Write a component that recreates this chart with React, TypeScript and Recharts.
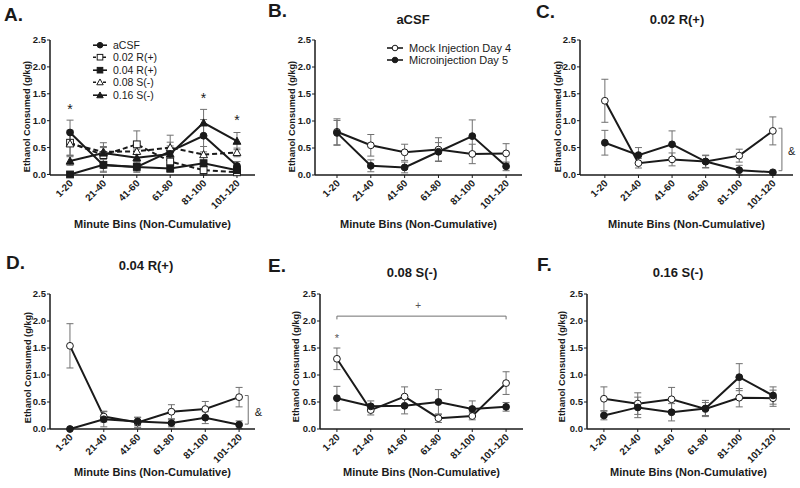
import React from 'react';
import { LineChart, Line, XAxis, YAxis, ErrorBar, ReferenceLine, ReferenceDot, Legend, Label } from 'recharts';

// minute bins on the x axis
const bins = ['1-20', '21-40', '41-60', '61-80', '81-100', '101-120'];
const binIndex = [1, 2, 3, 4, 5, 6];
const yTicks = [0, 0.5, 1, 1.5, 2, 2.5];

// aCSF
const acsfMock = [0.8, 0.55, 0.42, 0.47, 0.39, 0.4];
const acsfMockErr = [0.24, 0.2, 0.15, 0.22, 0.18, 0.18];
const acsfMicro = [0.78, 0.17, 0.14, 0.43, 0.72, 0.16];
const acsfMicroErr = [0.23, 0.11, 0.1, 0.17, 0.3, 0.08];

// 0.02 R(+)
const r02Mock = [1.37, 0.21, 0.28, 0.24, 0.35, 0.81];
const r02MockErr = [0.4, 0.09, 0.12, 0.11, 0.12, 0.26];
const r02Micro = [0.59, 0.36, 0.56, 0.24, 0.08, 0.04];
const r02MicroErr = [0.23, 0.14, 0.25, 0.12, 0.09, 0.02];

// 0.04 R(+)
const r04Mock = [1.54, 0.23, 0.12, 0.32, 0.37, 0.59];
const r04MockErr = [0.41, 0.1, 0.09, 0.13, 0.14, 0.18];
const r04Micro = [0.0, 0.18, 0.14, 0.11, 0.21, 0.08];
const r04MicroErr = [0, 0.14, 0.08, 0.07, 0.11, 0.07];

// 0.08 S(-)
const s08Mock = [1.3, 0.35, 0.6, 0.2, 0.24, 0.85];
const s08MockErr = [0.2, 0.09, 0.18, 0.08, 0.07, 0.21];
const s08Micro = [0.57, 0.42, 0.43, 0.5, 0.37, 0.41];
const s08MicroErr = [0.22, 0.1, 0.15, 0.23, 0.15, 0.08];

// 0.16 S(-)
const s16Mock = [0.56, 0.47, 0.55, 0.37, 0.58, 0.57];
const s16MockErr = [0.22, 0.2, 0.22, 0.12, 0.17, 0.15];
const s16Micro = [0.25, 0.4, 0.31, 0.38, 0.96, 0.62];
const s16MicroErr = [0.08, 0.19, 0.16, 0.15, 0.25, 0.16];

const FONT = '"Liberation Sans", Arial, Helvetica, sans-serif';
const INK = '#1a1a1a';
const GREY = '#707070';

type Shape = 'circle' | 'square' | 'triangle';

interface Series {
  name: string;
  values: number[];
  errors: number[];
  shape: Shape;
  filled: boolean;
  dashed?: boolean;
}

const Marker = ({ cx, cy, shape, filled, size = 3.4 }: any) => {
  const fill = filled ? INK : '#fff';
  if (shape === 'square') {
    return <rect x={cx - size} y={cy - size} width={size * 2} height={size * 2} fill={fill} stroke={INK} strokeWidth={1} />;
  }
  if (shape === 'triangle') {
    const s = size * 1.15;
    return (
      <polygon
        points={`${cx},${cy - s} ${cx + s},${cy + s * 0.8} ${cx - s},${cy + s * 0.8}`}
        fill={fill}
        stroke={INK}
        strokeWidth={1}
      />
    );
  }
  return <circle cx={cx} cy={cy} r={size} fill={fill} stroke={INK} strokeWidth={1} />;
};

const makeDot = (shape: Shape, filled: boolean) => (props: any) => {
  if (props.cx == null || props.cy == null) return <g key={`n${props.index}`} />;
  return (
    <g key={`d${props.index}`}>
      <Marker cx={props.cx} cy={props.cy} shape={shape} filled={filled} />
    </g>
  );
};

const BinTick = ({ x, y, payload }: any) => {
  const ax = x + 3.5;
  const ay = y + 4;
  return (
    <text
      x={ax}
      y={ay}
      transform={`rotate(-45, ${ax}, ${ay})`}
      textAnchor="end"
      fontSize={9.8}
      fontWeight="bold"
      fontFamily={FONT}
      fill={INK}
    >
      {bins[payload.value - 1]}
    </text>
  );
};

const LegendBox = ({ items, fontSize, rowH, lineW }: any) => (
  <div style={{ fontFamily: FONT, fontSize, color: INK, lineHeight: `${rowH}px` }}>
    {items.map((s: Series) => (
      <div key={s.name} style={{ display: 'flex', alignItems: 'center', height: rowH, whiteSpace: 'nowrap' }}>
        <svg width={lineW} height={rowH} style={{ marginRight: 6 }}>
          <line
            x1={0}
            x2={lineW}
            y1={rowH / 2}
            y2={rowH / 2}
            stroke={INK}
            strokeWidth={1.6}
            strokeDasharray={s.dashed ? '3 2' : undefined}
          />
          <Marker cx={lineW / 2} cy={rowH / 2} shape={s.shape} filled={s.filled} size={2.8} />
        </svg>
        <span>{s.name}</span>
      </div>
    ))}
  </div>
);

const note = (key: string, x: number, y: number, text: string, size: number, color = INK, weight = 'normal') => (
  <ReferenceDot
    key={key}
    x={x}
    y={y}
    r={0}
    fill="none"
    stroke="none"
    ifOverflow="visible"
    label={{ value: text, position: 'center', fill: color, fontSize: size, fontFamily: FONT, fontWeight: weight }}
  />
);

const seg = (key: string, x1: number, y1: number, x2: number, y2: number) => (
  <ReferenceLine
    key={key}
    segment={[{ x: x1, y: y1 }, { x: x2, y: y2 }]}
    stroke={GREY}
    strokeWidth={1}
    ifOverflow="visible"
  />
);

const mockMicro = (mock: number[], mockErr: number[], micro: number[], microErr: number[]): Series[] => [
  { name: 'Mock Injection Day 4', values: mock, errors: mockErr, shape: 'circle', filled: false },
  { name: 'Microinjection Day 5', values: micro, errors: microErr, shape: 'circle', filled: true },
];

const doseSeries: Series[] = [
  { name: 'aCSF', values: acsfMicro, errors: acsfMicroErr, shape: 'circle', filled: true },
  { name: '0.02 R(+)', values: r02Micro, errors: r02MicroErr, shape: 'square', filled: false, dashed: true },
  { name: '0.04 R(+)', values: r04Micro, errors: r04MicroErr, shape: 'square', filled: true },
  { name: '0.08 S(-)', values: s08Micro, errors: s08MicroErr, shape: 'triangle', filled: false, dashed: true },
  { name: '0.16 S(-)', values: s16Micro, errors: s16MicroErr, shape: 'triangle', filled: true },
];

const panels = [
  {
    id: 'A',
    box: { left: 0, top: 0, w: 265, h: 240 },
    plot: { left: 50, top: 40, right: 255, bottom: 175 },
    domain: [0.4, 6.54],
    yLabelX: 27,
    yLabelShift: 9,
    xTitleY: 228,
    series: doseSeries,
    legend: { left: 93, top: 39, fontSize: 10.5, rowH: 12.4, lineW: 14 },
    extras: [note('a1', 1, 1.22, '*', 14), note('a5', 5, 1.43, '*', 14), note('a6', 6, 1.02, '*', 14)],
  },
  {
    id: 'B',
    box: { left: 265, top: 0, w: 265, h: 240 },
    plot: { left: 315, top: 40, right: 522, bottom: 175 },
    domain: [0.35, 6.47],
    yLabelX: 292,
    yLabelShift: 9,
    xTitleY: 228,
    series: mockMicro(acsfMock, acsfMockErr, acsfMicro, acsfMicroErr),
    legend: { left: 122, top: 42, fontSize: 11, rowH: 12, lineW: 16 },
    extras: [],
  },
  {
    id: 'C',
    box: { left: 530, top: 0, w: 270, h: 240 },
    plot: { left: 580, top: 40, right: 793, bottom: 175 },
    domain: [0.26, 6.6],
    yLabelX: 558,
    yLabelShift: 9,
    xTitleY: 228,
    series: mockMicro(r02Mock, r02MockErr, r02Micro, r02MicroErr),
    extras: [
      seg('c1', 6.27, 0.86, 6.27, 0.07),
      seg('c2', 6.17, 0.86, 6.27, 0.86),
      seg('c3', 6.17, 0.07, 6.27, 0.07),
      note('c4', 6.56, 0.43, '&', 11),
    ],
  },
  {
    id: 'D',
    box: { left: 0, top: 240, w: 265, h: 248 },
    plot: { left: 50, top: 294, right: 255, bottom: 429 },
    domain: [0.41, 6.47],
    yLabelX: 28,
    yLabelShift: 6,
    xTitleY: 476,
    series: mockMicro(r04Mock, r04MockErr, r04Micro, r04MicroErr),
    extras: [
      seg('d1', 6.27, 0.62, 6.27, 0.09),
      seg('d2', 6.17, 0.62, 6.27, 0.62),
      seg('d3', 6.17, 0.09, 6.27, 0.09),
      note('d4', 6.57, 0.32, '&', 11),
    ],
  },
  {
    id: 'E',
    box: { left: 265, top: 240, w: 265, h: 248 },
    plot: { left: 320, top: 294, right: 523, bottom: 429 },
    domain: [0.5, 6.5],
    yLabelX: 296,
    yLabelShift: 5,
    xTitleY: 476,
    series: mockMicro(s08Mock, s08MockErr, s08Micro, s08MicroErr),
    extras: [
      seg('e1', 1, 2.09, 6, 2.09),
      seg('e2', 1, 2.09, 1, 2.03),
      seg('e3', 6, 2.09, 6, 2.03),
      note('e4', 3.4, 2.28, '+', 10, '#555'),
      note('e5', 1, 1.68, '*', 11, '#555'),
    ],
  },
  {
    id: 'F',
    box: { left: 530, top: 240, w: 270, h: 248 },
    plot: { left: 587, top: 294, right: 790, bottom: 429 },
    domain: [0.5, 6.5],
    yLabelX: 562,
    yLabelShift: 5,
    xTitleY: 476,
    series: mockMicro(s16Mock, s16MockErr, s16Micro, s16MicroErr),
    extras: [],
  },
];

// panel letters and titles (baseline positions)
const headings = [
  { text: 'A.', x: 4, y: 21, size: 19, center: false },
  { text: 'B.', x: 268, y: 17, size: 19, center: false },
  { text: 'C.', x: 536, y: 18, size: 19, center: false },
  { text: 'D.', x: 6, y: 269, size: 19, center: false },
  { text: 'E.', x: 268, y: 272, size: 19, center: false },
  { text: 'F.', x: 537, y: 271, size: 19, center: false },
  { text: 'aCSF', x: 413, y: 24, size: 13, center: true },
  { text: '0.02 R(+)', x: 677, y: 24, size: 13, center: true },
  { text: '0.04  R(+)', x: 146, y: 270, size: 13, center: true },
  { text: '0.08 S(-)', x: 412, y: 277, size: 13, center: true },
  { text: '0.16 S(-)', x: 678, y: 277, size: 13, center: true },
];

const Panel = ({ cfg }: any) => {
  const { box, plot } = cfg;
  const xAxisH = 55;
  const margin = {
    top: plot.top - box.top,
    right: box.left + box.w - plot.right,
    bottom: box.top + box.h - plot.bottom - xAxisH,
    left: 0,
  };
  const table = binIndex.map((x, i) => {
    const row: Record<string, number> = { x };
    cfg.series.forEach((s: Series, k: number) => {
      row[`v${k}`] = s.values[i];
      row[`e${k}`] = s.errors[i];
    });
    return row;
  });

  const yLabel = () => (
    <text
      transform={`translate(${cfg.yLabelX - box.left},${(plot.top + plot.bottom) / 2 + cfg.yLabelShift - box.top}) rotate(-90)`}
      textAnchor="middle"
      dominantBaseline="central"
      fontSize={9.2}
      fontWeight="bold"
      fontFamily={FONT}
      fill={INK}
    >
      Ethanol  Consumed (g/kg)
    </text>
  );

  const xLabel = () => (
    <text
      x={(plot.left + plot.right) / 2 - box.left}
      y={cfg.xTitleY - box.top}
      textAnchor="middle"
      fontSize={11}
      fontWeight="bold"
      fontFamily={FONT}
      fill={INK}
    >
      Minute Bins (Non-Cumulative)
    </text>
  );

  return (
    <div style={{ position: 'absolute', left: box.left, top: box.top }}>
      <LineChart width={box.w} height={box.h} data={table} margin={margin}>
        <XAxis
          type="number"
          dataKey="x"
          domain={cfg.domain}
          ticks={binIndex}
          interval={0}
          allowDataOverflow
          height={xAxisH}
          tick={<BinTick />}
          tickSize={3}
          tickLine={{ stroke: INK }}
          axisLine={{ stroke: INK, strokeWidth: 1.5 }}
        >
          <Label content={xLabel} />
        </XAxis>
        <YAxis
          type="number"
          domain={[0, 2.5]}
          ticks={yTicks}
          interval={0}
          width={plot.left - box.left}
          tickFormatter={(v: number) => v.toFixed(1)}
          tick={{ fill: INK, fontSize: 9.5, fontWeight: 'bold', fontFamily: FONT }}
          tickSize={3}
          tickMargin={1}
          tickLine={{ stroke: INK }}
          axisLine={{ stroke: INK, strokeWidth: 1.5 }}
        >
          <Label content={yLabel} />
        </YAxis>
        {cfg.series.map((s: Series, k: number) => (
          <Line
            key={s.name}
            dataKey={`v${k}`}
            name={s.name}
            type="linear"
            stroke={INK}
            strokeWidth={2}
            strokeDasharray={s.dashed ? '5 3' : undefined}
            dot={makeDot(s.shape, s.filled)}
            activeDot={false}
            isAnimationActive={false}
          >
            <ErrorBar dataKey={`e${k}`} direction="y" width={3.5} stroke={GREY} strokeWidth={1} />
          </Line>
        ))}
        {cfg.extras}
        {cfg.legend && (
          <Legend
            layout="vertical"
            align="center"
            verticalAlign="middle"
            wrapperStyle={{ left: cfg.legend.left, top: cfg.legend.top, width: 'auto' }}
            content={() => (
              <LegendBox
                items={cfg.series}
                fontSize={cfg.legend.fontSize}
                rowH={cfg.legend.rowH}
                lineW={cfg.legend.lineW}
              />
            )}
          />
        )}
      </LineChart>
    </div>
  );
};

export default function App() {
  return (
    <div
      style={{
        position: 'absolute',
        left: 0,
        top: 0,
        width: 800,
        height: 488,
        background: '#fff',
        fontFamily: FONT,
        overflow: 'hidden',
      }}
    >
      {panels.map((p) => (
        <Panel key={p.id} cfg={p} />
      ))}
      <svg width={800} height={488} style={{ position: 'absolute', left: 0, top: 0, pointerEvents: 'none' }}>
        {headings.map((h) => (
          <text
            key={h.text}
            x={h.x}
            y={h.y}
            textAnchor={h.center ? 'middle' : 'start'}
            fontSize={h.size}
            fontWeight="bold"
            fontFamily={FONT}
            fill={INK}
          >
            {h.text}
          </text>
        ))}
      </svg>
    </div>
  );
}
